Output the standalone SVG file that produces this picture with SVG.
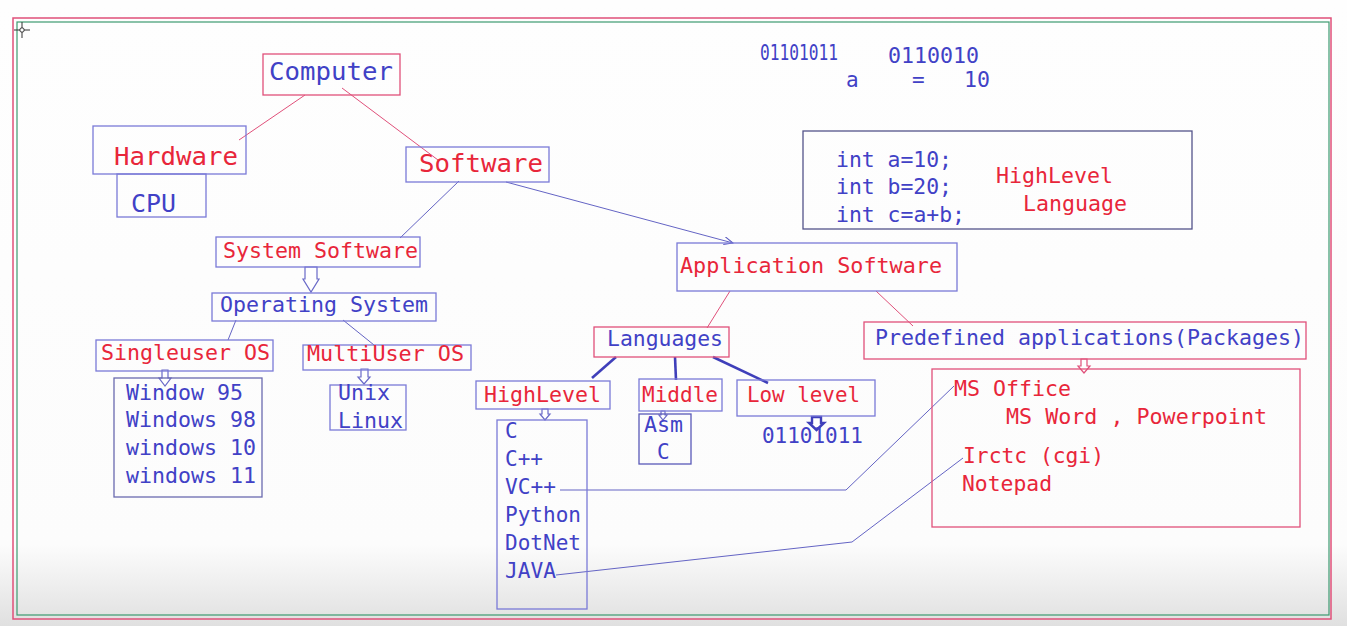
<svg xmlns="http://www.w3.org/2000/svg" width="1347" height="626" viewBox="0 0 1347 626">
<defs>
<linearGradient id="bg" x1="0" y1="0" x2="0" y2="1">
<stop offset="0" stop-color="#fefefe"/>
<stop offset="0.87" stop-color="#fcfcfc"/>
<stop offset="1" stop-color="#e0e0e0"/>
</linearGradient>
<marker id="ah" markerWidth="10" markerHeight="8" refX="9" refY="4" orient="auto" markerUnits="userSpaceOnUse">
<path d="M0,0 L9,4 L0,8" fill="none" stroke="#5a5ac0" stroke-width="1"/>
</marker>
<style>
text{font-family:"DejaVu Sans Mono","Liberation Mono",monospace;font-size:21px}
.b{fill:#4141c6}
.r{fill:#e8263a}
.big{font-size:25px}
.bx{fill:none;stroke:#7a7ad8;stroke-width:1.3}
.rx{fill:none;stroke:#e0507a;stroke-width:1.3}
.dx{fill:none;stroke:#54548a;stroke-width:1.3}
.ln{fill:none;stroke:#6464c4;stroke-width:1}
.rl{fill:none;stroke:#e0507a;stroke-width:1}
.th{fill:none;stroke:#3f3fba;stroke-width:2.6}
.ha{fill:#ffffff;stroke:#6a6ac8;stroke-width:1.2}
.hr{fill:#ffffff;stroke:#e0507a;stroke-width:1.2}
</style>
</defs>
<rect x="0" y="0" width="1347" height="626" fill="url(#bg)"/>
<rect x="13" y="18" width="1318" height="601" fill="none" stroke="#e0507a" stroke-width="1.5"/>
<rect x="17" y="22" width="1312" height="593" fill="none" stroke="#3c9a70" stroke-width="1.2"/>
<g id="cursor" stroke="#333" stroke-width="1" fill="none">
<line x1="14" y1="30" x2="30" y2="30"/><line x1="22" y1="22" x2="22" y2="38"/><circle cx="22" cy="30" r="2.2" fill="#fff"/>
</g>

<g id="connectors">
<line class="rl" x1="305" y1="95" x2="239" y2="140"/>
<line class="rl" x1="342" y1="88" x2="438" y2="160"/>
<line class="ln" x1="459" y1="181" x2="400" y2="238"/>
<line class="ln" x1="506" y1="182" x2="733" y2="243" marker-end="url(#ah)"/>
<line class="ln" x1="236" y1="320" x2="228" y2="340"/>
<line class="ln" x1="343" y1="320" x2="374" y2="345"/>
<line class="rl" x1="730" y1="291" x2="707" y2="328"/>
<line class="rl" x1="876" y1="291" x2="913" y2="326"/>
<line class="th" x1="616" y1="357" x2="592" y2="378"/>
<line class="th" x1="675" y1="357" x2="676" y2="380"/>
<line class="th" x1="713" y1="357" x2="768" y2="383"/>
<polyline class="ln" points="560,490 846,490 954,386"/>
<polyline class="ln" points="556,575 852,542 963,458"/>
<polygon class="ha" points="305,267 317,267 317,279 319,279 311,292 303,279 305,279"/>
<polygon class="ha" points="162,370 168,370 168,378 171,378 165,386 159,378 162,378"/>
<polygon class="ha" points="361,369 368,369 368,377 370,377 364,384 358,377 361,377"/>
<polygon class="ha" points="542,409 548,409 548,414 550,414 545,420 540,414 542,414"/>
<polygon class="ha" points="661,411 665,411 665,415 667,415 663,420 659,415 661,415"/>
<polygon fill="#fff" stroke="#3f3fba" stroke-width="2.4" points="812,417 821,417 821,423 824,423 816.5,430 809,423 812,423"/>
<polygon class="hr" points="1081,359 1087,359 1087,366 1090,366 1084,373 1078,366 1081,366"/>
</g>

<g id="binary-top">
<text class="b" x="760" y="60" textLength="78" lengthAdjust="spacingAndGlyphs">01101011</text>
<text class="b" x="888" y="63" textLength="91" lengthAdjust="spacingAndGlyphs">0110010</text>
<text class="b" x="846" y="87">a</text>
<text class="b" x="912" y="87">=</text>
<text class="b" x="964" y="87" textLength="26" lengthAdjust="spacingAndGlyphs">10</text>
</g>

<g id="code-box">
<rect class="dx" x="803" y="131" width="389" height="98"/>
<text class="b" x="836" y="167" textLength="116" lengthAdjust="spacingAndGlyphs">int a=10;</text>
<text class="b" x="836" y="194" textLength="116" lengthAdjust="spacingAndGlyphs">int b=20;</text>
<text class="b" x="836" y="222" textLength="129" lengthAdjust="spacingAndGlyphs">int c=a+b;</text>
<text class="r" x="996" y="183" textLength="117" lengthAdjust="spacingAndGlyphs">HighLevel</text>
<text class="r" x="1023" y="211" textLength="104" lengthAdjust="spacingAndGlyphs">Language</text>
</g>

<g id="computer">
<rect class="rx" x="263" y="54" width="137" height="41"/>
<text class="b big" x="269" y="80" textLength="124" lengthAdjust="spacingAndGlyphs">Computer</text>
</g>
<g id="hardware">
<rect class="bx" x="93" y="126" width="153" height="48"/>
<text class="r big" x="114" y="165" textLength="124" lengthAdjust="spacingAndGlyphs">Hardware</text>
</g>
<g id="cpu">
<rect class="bx" x="117" y="174" width="89" height="43"/>
<text class="b big" x="131" y="212" textLength="45" lengthAdjust="spacingAndGlyphs">CPU</text>
</g>
<g id="software">
<rect class="bx" x="406" y="147" width="143" height="35"/>
<text class="r big" x="419" y="172" textLength="124" lengthAdjust="spacingAndGlyphs">Software</text>
</g>
<g id="system-software">
<rect class="bx" x="216" y="237" width="204" height="30"/>
<text class="r" x="223" y="258" textLength="195" lengthAdjust="spacingAndGlyphs">System Software</text>
</g>
<g id="operating-system">
<rect class="bx" x="212" y="293" width="224" height="28"/>
<text class="b" x="220" y="312" textLength="208" lengthAdjust="spacingAndGlyphs">Operating System</text>
</g>
<g id="singleuser">
<rect class="bx" x="96" y="340" width="177" height="31"/>
<text class="r" x="101" y="360" textLength="169" lengthAdjust="spacingAndGlyphs">Singleuser OS</text>
</g>
<g id="windows">
<rect class="dx" x="114" y="378" width="148" height="119" style="stroke:#6a6ab0"/>
<text class="b" x="126" y="400" textLength="117" lengthAdjust="spacingAndGlyphs">Window 95</text>
<text class="b" x="126" y="427" textLength="130" lengthAdjust="spacingAndGlyphs">Windows 98</text>
<text class="b" x="126" y="455" textLength="130" lengthAdjust="spacingAndGlyphs">windows 10</text>
<text class="b" x="126" y="483" textLength="130" lengthAdjust="spacingAndGlyphs">windows 11</text>
</g>
<g id="multiuser">
<rect class="bx" x="303" y="345" width="168" height="25"/>
<text class="r" x="307" y="361" textLength="157" lengthAdjust="spacingAndGlyphs">MultiUser OS</text>
</g>
<g id="unix">
<rect class="bx" x="330" y="385" width="76" height="45"/>
<text class="b" x="338" y="400" textLength="52" lengthAdjust="spacingAndGlyphs">Unix</text>
<text class="b" x="338" y="428" textLength="65" lengthAdjust="spacingAndGlyphs">Linux</text>
</g>
<g id="application-software">
<rect class="bx" x="677" y="243" width="280" height="48"/>
<text class="r" x="680" y="273" textLength="262" lengthAdjust="spacingAndGlyphs">Application Software</text>
</g>
<g id="languages">
<rect class="rx" x="594" y="327" width="135" height="30"/>
<text class="b" x="607" y="346" textLength="116" lengthAdjust="spacingAndGlyphs">Languages</text>
</g>
<g id="highlevel">
<rect class="bx" x="476" y="381" width="134" height="28"/>
<text class="r" x="484" y="402" textLength="117" lengthAdjust="spacingAndGlyphs">HighLevel</text>
</g>
<g id="lang-list">
<rect class="bx" x="497" y="420" width="90" height="189"/>
<text class="b" x="505" y="438">C</text>
<text class="b" x="505" y="466" textLength="38" lengthAdjust="spacingAndGlyphs">C++</text>
<text class="b" x="505" y="494" textLength="51" lengthAdjust="spacingAndGlyphs">VC++</text>
<text class="b" x="505" y="522" textLength="76" lengthAdjust="spacingAndGlyphs">Python</text>
<text class="b" x="505" y="550" textLength="76" lengthAdjust="spacingAndGlyphs">DotNet</text>
<text class="b" x="505" y="578" textLength="51" lengthAdjust="spacingAndGlyphs">JAVA</text>
</g>
<g id="middle">
<rect class="bx" x="639" y="379" width="83" height="32"/>
<text class="r" x="642" y="402" textLength="76" lengthAdjust="spacingAndGlyphs">Middle</text>
</g>
<g id="asm">
<rect class="dx" x="639" y="414" width="52" height="50" style="stroke:#5a5ab8"/>
<text class="b" x="644" y="432" textLength="39" lengthAdjust="spacingAndGlyphs">Asm</text>
<text class="b" x="657" y="459">C</text>
</g>
<g id="lowlevel">
<rect class="bx" x="737" y="380" width="138" height="36"/>
<text class="r" x="747" y="402" textLength="113" lengthAdjust="spacingAndGlyphs">Low level</text>
<text class="b" x="762" y="443" textLength="101" lengthAdjust="spacingAndGlyphs">01101011</text>
</g>
<g id="predefined">
<rect class="rx" x="864" y="322" width="442" height="37"/>
<text class="b" x="875" y="345" textLength="429" lengthAdjust="spacingAndGlyphs">Predefined applications(Packages)</text>
</g>
<g id="packages">
<rect class="rx" x="932" y="369" width="368" height="158"/>
<text class="r" x="954" y="396" textLength="117" lengthAdjust="spacingAndGlyphs">MS Office</text>
<text class="r" x="1006" y="424" textLength="261" lengthAdjust="spacingAndGlyphs">MS Word , Powerpoint</text>
<text class="r" x="963" y="463" textLength="141" lengthAdjust="spacingAndGlyphs">Irctc (cgi)</text>
<text class="r" x="962" y="491" textLength="90" lengthAdjust="spacingAndGlyphs">Notepad</text>
</g>
</svg>
